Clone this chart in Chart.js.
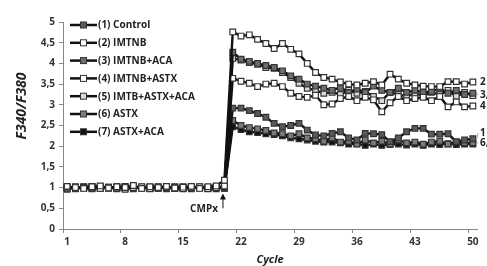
<!DOCTYPE html>
<html>
<head>
<meta charset="utf-8">
<script src="https://cdn.jsdelivr.net/npm/chart.js@4.4.1/dist/chart.umd.min.js"></script>
<style>
  body { margin: 0; background: #fff; }
  #wrap { width: 487px; height: 266px; position: relative; }
</style>
</head>
<body>
<div id="wrap"><canvas id="chart"></canvas></div>
<script>
// Cycles 1..50
const cycles = [1,2,3,4,5,6,7,8,9,10,11,12,13,14,15,16,17,18,19,20,
                21,22,23,24,25,26,27,28,29,30,31,32,33,34,35,36,37,38,39,40,
                41,42,43,44,45,46,47,48,49,50];
const xTickLabels = ['1', '8', '15', '22', '29', '36', '43', '50'];

const seriesNames = ['(1) Control', '(2) IMTNB', '(3) IMTNB+ACA', '(4) IMTNB+ASTX',
                     '(5) IMTB+ASTX+ACA', '(6) ASTX', '(7) ASTX+ACA'];

const control = [1.00,0.98,1.02,1.00,0.99,1.01,1.00,0.98,1.03,1.00,0.99,1.01,1.00,0.98,1.02,1.00,0.99,1.00,1.01,1.00,
                 2.92,2.92,2.86,2.79,2.70,2.55,2.47,2.50,2.55,2.39,2.27,2.25,2.31,2.35,2.20,2.15,2.31,2.30,2.28,2.11,
                 2.20,2.35,2.43,2.43,2.29,2.29,2.30,2.11,2.15,2.18];
const imtnb = [1.03,1.00,0.98,1.02,1.04,0.99,1.02,1.00,1.05,0.98,1.02,1.00,1.03,0.99,1.01,1.03,0.98,1.02,1.04,1.18,
               4.76,4.66,4.69,4.58,4.48,4.36,4.48,4.34,4.23,4.00,3.78,3.66,3.62,3.55,3.50,3.48,3.52,3.56,3.48,3.74,
               3.62,3.52,3.48,3.45,3.44,3.44,3.56,3.56,3.50,3.55];
const imtnbAca = [0.98,1.02,1.00,0.99,1.01,1.00,0.97,1.02,1.00,0.99,1.01,0.98,1.00,1.02,0.99,1.00,1.01,0.98,1.00,1.02,
                  4.27,4.10,4.05,4.00,3.95,3.90,3.82,3.70,3.62,3.50,3.45,3.40,3.35,3.42,3.30,3.38,3.30,3.45,3.35,3.30,
                  3.40,3.30,3.35,3.30,3.32,3.40,3.28,3.35,3.25,3.28];
const imtnbAstx = [1.02,0.97,1.01,1.03,0.98,1.00,1.02,0.96,1.00,1.02,0.97,1.01,1.03,0.99,0.97,1.01,1.02,0.97,1.00,1.04,
                   3.64,3.57,3.52,3.44,3.50,3.52,3.44,3.28,3.20,3.18,3.23,3.00,3.02,3.15,3.20,3.10,3.18,3.12,2.83,3.05,
                   3.20,3.10,3.15,3.18,3.10,3.20,2.95,3.07,2.95,2.97];
const imtbAstxAca = [0.96,1.01,0.99,0.97,1.02,0.98,1.01,1.03,0.97,1.01,0.98,1.02,0.97,1.01,1.00,0.97,1.01,1.00,0.97,1.01,
                     4.12,4.08,4.02,3.98,3.90,3.88,3.78,3.66,3.52,3.40,3.35,3.28,3.30,3.25,3.35,3.28,3.32,3.20,3.10,3.30,
                     3.25,3.20,3.28,3.22,3.30,3.25,3.35,3.20,3.30,3.22];
const astx = [1.01,0.99,1.00,1.02,0.98,1.01,0.99,1.00,1.02,0.99,1.00,0.98,1.01,1.00,0.98,1.02,1.00,0.99,1.01,0.99,
              2.62,2.50,2.45,2.42,2.38,2.32,2.30,2.25,2.30,2.20,2.18,2.12,2.20,2.10,2.12,2.05,2.15,2.08,2.12,2.05,
              2.15,2.08,2.10,2.05,2.10,2.12,2.05,2.10,2.08,2.08];
const astxAca = [0.99,1.00,1.01,0.99,1.00,1.00,0.99,1.01,1.00,1.00,0.99,1.00,1.01,0.99,1.00,1.00,1.00,0.99,1.00,0.98,
                 2.47,2.40,2.35,2.33,2.30,2.28,2.25,2.20,2.18,2.15,2.12,2.10,2.10,2.08,2.05,2.06,2.02,2.05,2.02,2.04,
                 2.05,2.03,2.05,2.02,2.05,2.04,2.06,2.04,2.05,2.05];

const seriesData = [control, imtnb, imtnbAca, imtnbAstx, imtbAstxAca, astx, astxAca];
const markerFill = ['#5a5a5a', '#ffffff', '#6e6e6e', '#ffffff', '#d8d8d8', '#7a7a7a', '#111111'];

// labels at the right end of the curves
const endLabels = ['2', '3,5', '4', '1', '6,7'];
const endLabelValues = [3.55, 3.24, 2.97, 2.32, 2.08];

const FONT = "'Open Sans', 'Liberation Sans', sans-serif";

const datasets = seriesData.map((d, i) => ({
    label: seriesNames[i],
    data: d,
    borderColor: '#111',
    borderWidth: 2.4,
    pointStyle: 'rect',
    pointRadius: 4,
    pointBorderWidth: 1.2,
    pointBorderColor: '#333',
    pointBackgroundColor: markerFill[i],
    tension: 0
}));
// draw light series last so white squares stay visible like in Excel
const order = [6, 5, 0, 4, 2, 3, 1];
order.forEach((idx, k) => { datasets[idx].order = 7 - k; });

const extras = {
    id: 'extras',
    afterDraw(chart) {
        const ctx = chart.ctx;
        const ca = chart.chartArea;
        const xs = chart.scales.x, ys = chart.scales.y;
        ctx.save();

        // legend (Excel style, inside the plot)
        ctx.font = 'bold 10px ' + FONT;
        ctx.textBaseline = 'middle';
        chart.data.datasets.forEach((ds, i) => {
            const y = 25 + i * 17.8;
            ctx.strokeStyle = ds.borderColor;
            ctx.lineWidth = 2.5;
            ctx.beginPath(); ctx.moveTo(70, y); ctx.lineTo(97, y); ctx.stroke();
            ctx.fillStyle = ds.pointBackgroundColor;
            ctx.fillRect(80.5, y - 3, 6, 6);
            ctx.strokeStyle = '#333'; ctx.lineWidth = 1;
            ctx.strokeRect(80.5, y - 3, 6, 6);
            ctx.fillStyle = '#222';
            ctx.fillText(ds.label, 98, y + 0.5);
        });

        // y title
        ctx.save();
        ctx.translate(22, 106);
        ctx.rotate(-Math.PI / 2);
        ctx.font = 'italic bold 14px ' + FONT;
        ctx.textAlign = 'center';
        ctx.textBaseline = 'middle';
        ctx.fillStyle = '#222';
        ctx.fillText('F340/F380', 0, 0);
        ctx.restore();

        // right end labels
        ctx.font = 'bold 10px ' + FONT;
        ctx.textAlign = 'left';
        ctx.fillStyle = '#222';
        endLabels.forEach((t, i) => {
            const y = ys.getPixelForValue(endLabelValues[i]);
            ctx.fillText(t, ca.right + 3, y);
        });
        ctx.strokeStyle = '#aaa';
        ctx.lineWidth = 1;
        const ly1 = ys.getPixelForValue(2.32), ly6 = ys.getPixelForValue(2.08);
        const lastX = xs.getPixelForValue(49);
        ctx.beginPath();
        ctx.moveTo(lastX + 4, ly1 + 6); ctx.lineTo(ca.right + 1, ly1);
        ctx.moveTo(lastX + 4, ly6); ctx.lineTo(ca.right + 1, ly6);
        ctx.moveTo(lastX + 4, ys.getPixelForValue(3.28)); ctx.lineTo(ca.right + 1, ys.getPixelForValue(3.24));
        ctx.stroke();

        // CMPx arrow
        const ax = xs.getPixelForValue(19) - 1.5;
        const yTip = ys.getPixelForValue(0.86), yBase = ys.getPixelForValue(0.5);
        ctx.strokeStyle = '#111';
        ctx.fillStyle = '#111';
        ctx.lineWidth = 1;
        ctx.beginPath(); ctx.moveTo(ax, yBase); ctx.lineTo(ax, yTip + 4); ctx.stroke();
        ctx.beginPath();
        ctx.moveTo(ax, yTip); ctx.lineTo(ax - 3, yTip + 6); ctx.lineTo(ax + 3, yTip + 6);
        ctx.closePath(); ctx.fill();
        ctx.font = 'bold 10px ' + FONT;
        ctx.textAlign = 'right';
        ctx.textBaseline = 'middle';
        ctx.fillStyle = '#222';
        ctx.fillText('CMPx', ax - 5, yBase + 1);

        ctx.restore();
    }
};

new Chart(document.getElementById('chart'), {
    type: 'line',
    data: { labels: cycles, datasets: datasets },
    options: {
        responsive: true,
        maintainAspectRatio: false,
        animation: false,
        layout: { padding: { left: 0, right: 10, top: 22, bottom: 0 } },
        plugins: { legend: { display: false }, tooltip: { enabled: false } },
        scales: {
            x: {
                type: 'category',
                offset: true,
                grid: {
                    offset: true,
                    drawOnChartArea: false,
                    tickLength: 4,
                    color: (c) => (c.index % 7 === 0) ? '#888' : 'rgba(0,0,0,0)'
                },
                border: { color: '#888', width: 1 },
                ticks: {
                    autoSkip: false,
                    maxRotation: 0,
                    padding: 3,
                    color: '#333',
                    font: { family: FONT, size: 10, weight: 'bold' },
                    callback: function (v) {
                        const l = String(this.getLabelForValue(v));
                        return xTickLabels.includes(l) ? l : '';
                    }
                },
                title: {
                    display: true,
                    text: 'Cycle',
                    color: '#222',
                    font: { family: FONT, size: 11, weight: 'bold', style: 'italic' },
                    padding: { top: 4, bottom: 0 }
                },
                afterFit: (s) => { s.height = 37; }
            },
            y: {
                min: 0,
                max: 5,
                grid: { drawOnChartArea: false, tickLength: 4, color: '#888' },
                border: { color: '#888', width: 1 },
                ticks: {
                    stepSize: 0.5,
                    padding: 4,
                    color: '#333',
                    font: { family: FONT, size: 10, weight: 'bold' },
                    callback: (v) => String(v).replace('.', ',')
                },
                afterFit: (s) => { s.width = 63; }
            }
        }
    },
    plugins: [extras]
});
</script>
</body>
</html>
